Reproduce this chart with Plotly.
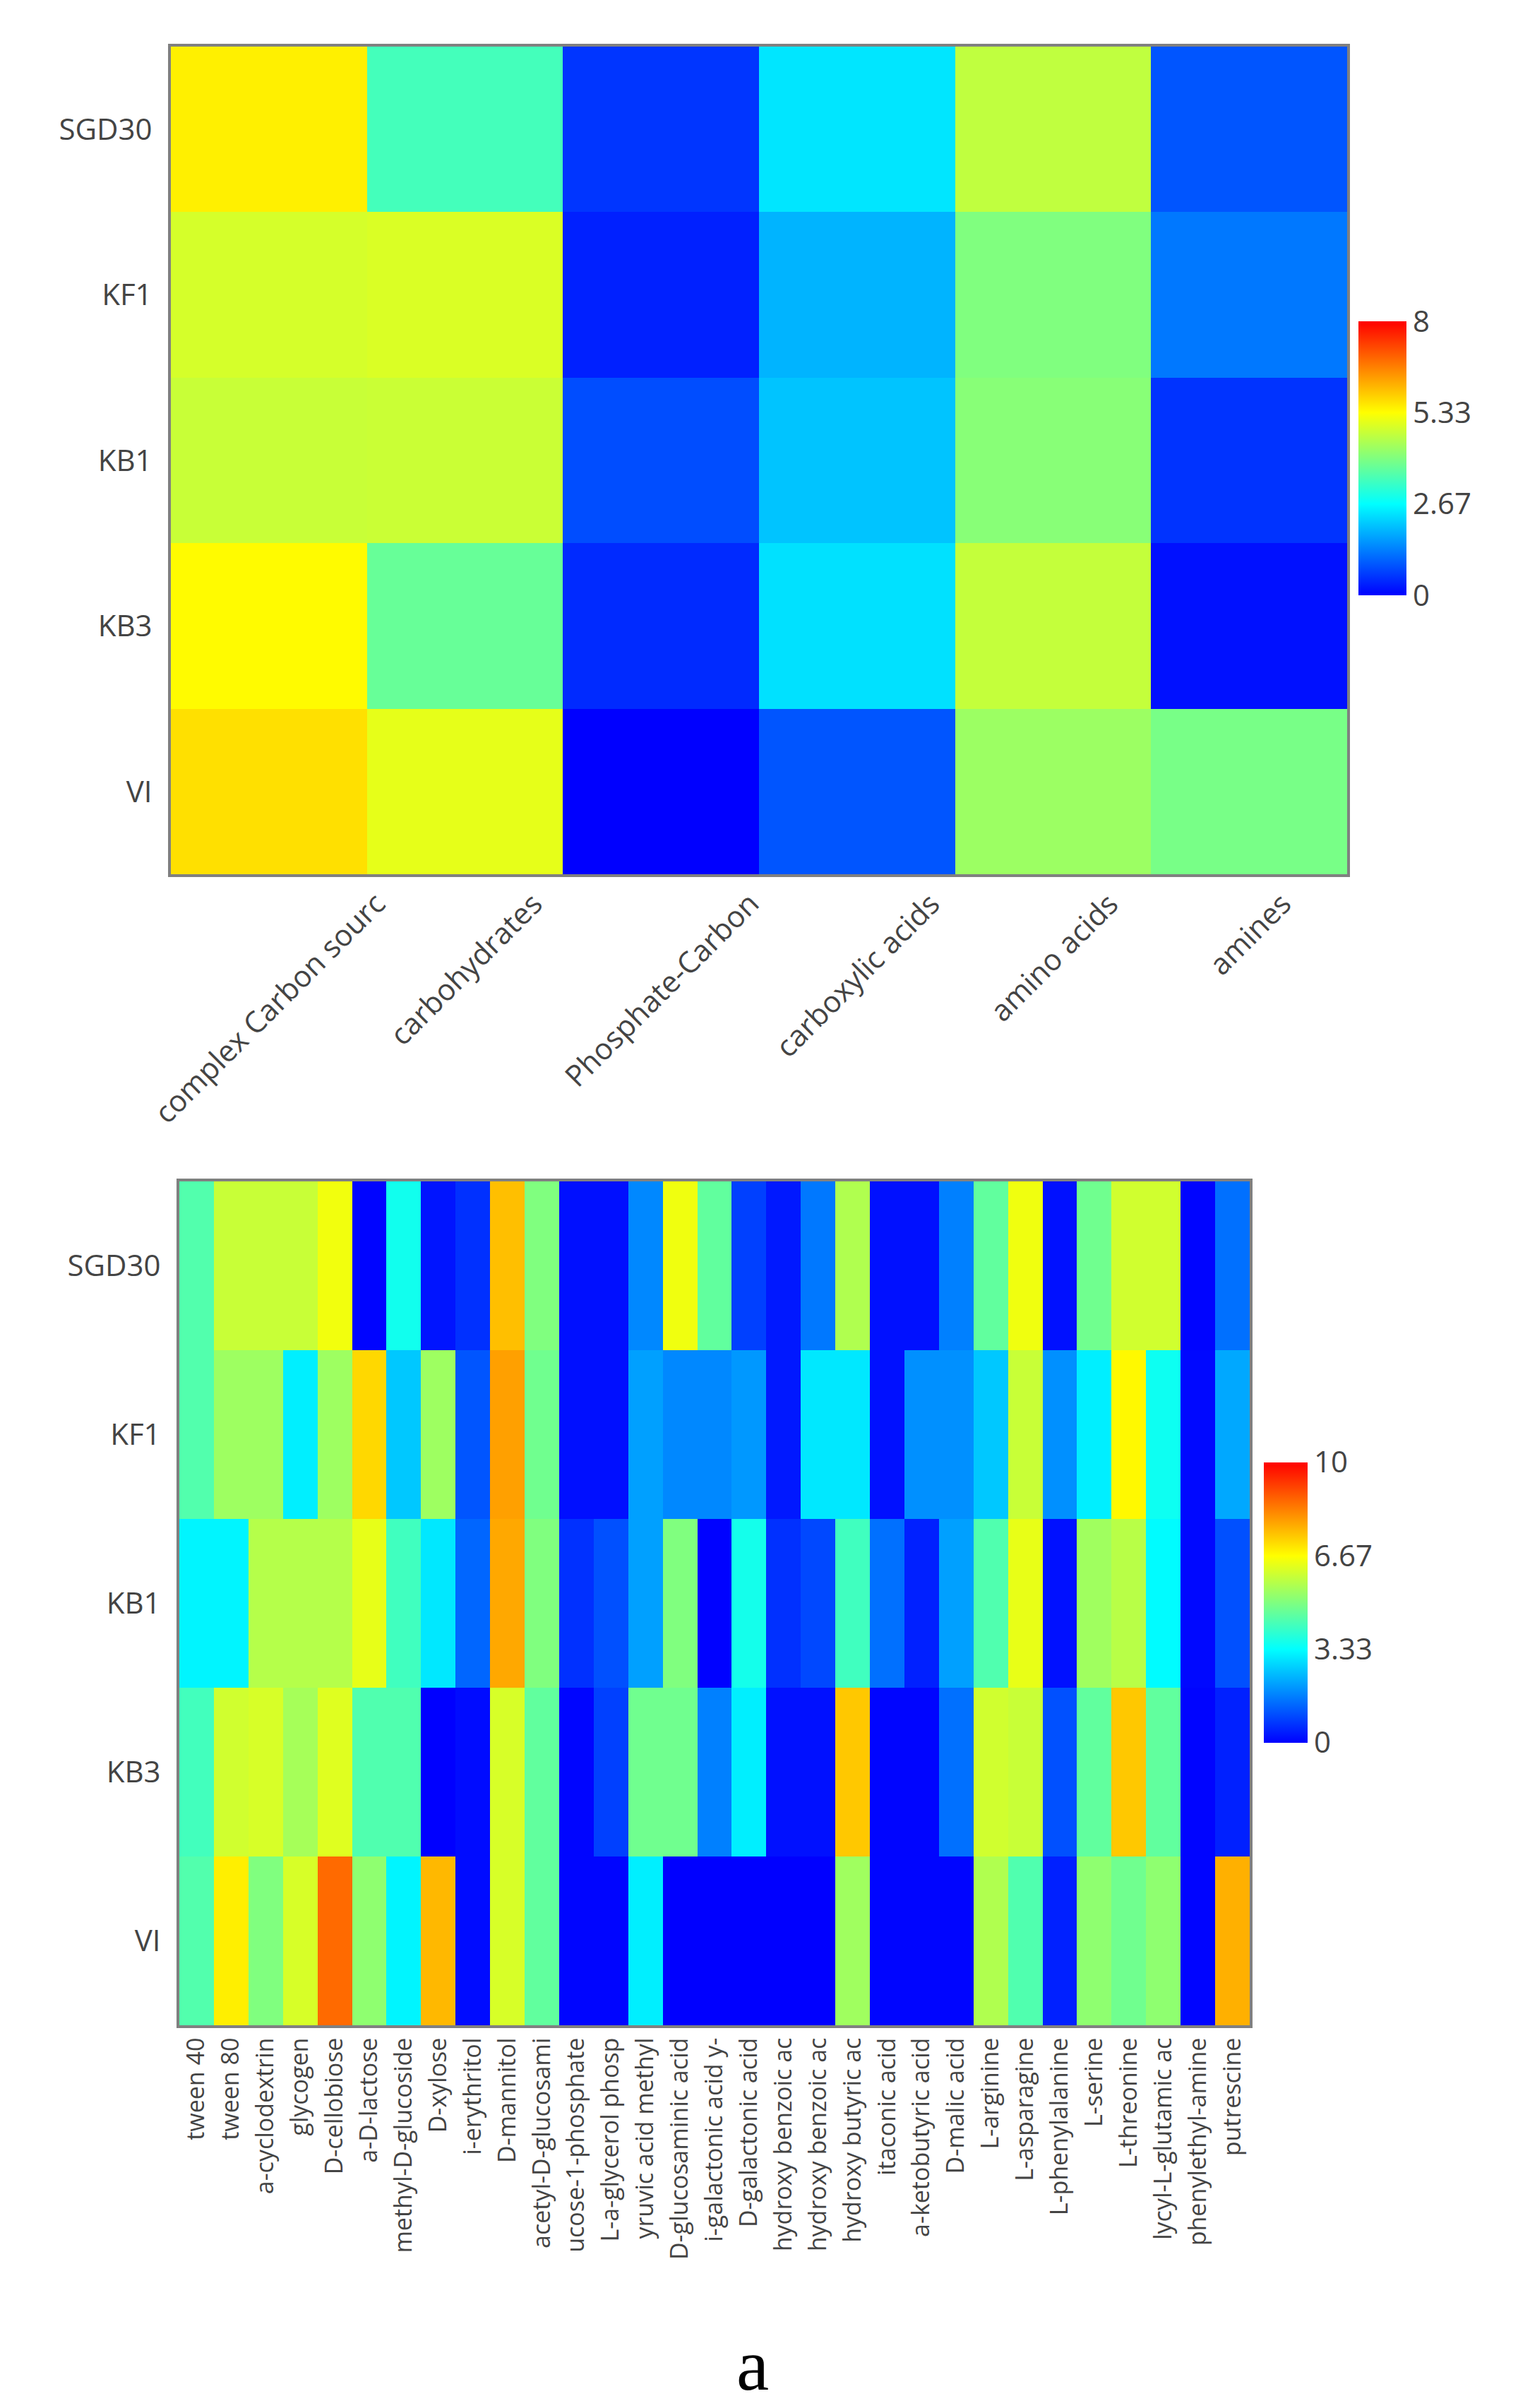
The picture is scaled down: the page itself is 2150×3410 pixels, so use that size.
import plotly.graph_objects as go

# ---- dados ----
amostras = ["SGD30", "KF1", "KB1", "KB3", "VI"]

grupos = ["complex Carbon sourc", "carbohydrates", "Phosphate-Carbon",
          "carboxylic acids", "amino acids", "amines"]

z_grupos = [
    [5.49, 3.38, 0.55, 2.40, 4.67, 0.89],   # SGD30
    [4.89, 4.95, 0.33, 1.88, 4.00, 1.25],   # KF1
    [4.76, 4.78, 0.80, 2.05, 4.09, 0.53],   # KB1
    [5.38, 3.74, 0.44, 2.35, 4.72, 0.17],   # KB3
    [5.66, 5.07, 0.00, 0.89, 4.30, 3.92],   # VI
]

substratos = ["tween 40", "tween 80", "a-cyclodextrin", "glycogen", "D-cellobiose",
              "a-D-lactose", "methyl-D-glucoside", "D-xylose", "i-erythritol", "D-mannitol",
              "acetyl-D-glucosami", "ucose-1-phosphate", "L-a-glycerol phosp",
              "yruvic acid methyl", "D-glucosaminic acid", "i-galactonic acid y-",
              "D-galactonic acid", "hydroxy benzoic ac", "hydroxy benzoic ac",
              "hydroxy butyric ac", "itaconic acid", "a-ketobutyric acid", "D-malic acid",
              "L-arginine", "L-asparagine", "L-phenylalanine", "L-serine", "L-threonine",
              "lycyl-L-glutamic ac", "phenylethyl-amine", "putrescine"]

z_sgd30 = [4.4, 5.95, 5.95, 5.95, 6.5, 0.05, 3.55, 0.26, 0.63, 7.5, 5.0, 0.2, 0.2, 1.78, 6.47,
           4.6, 0.84, 0.31, 1.57, 5.63, 0.21, 0.21, 1.67, 4.6, 6.47, 0.21, 4.8, 6.05, 6.05, 0.05, 1.46]
z_kf1 = [4.4, 5.4, 5.4, 3.13, 5.4, 7.18, 2.61, 5.4, 1.11, 7.91, 4.8, 0.2, 0.2, 2.09, 1.78,
         1.78, 1.99, 0.31, 3.03, 3.03, 0.21, 1.88, 1.88, 2.61, 5.95, 1.88, 3.13, 6.75, 3.5, 0.1, 2.2]
z_kb1 = [3.2, 3.2, 5.7, 5.7, 5.7, 6.35, 4.17, 3.03, 1.33, 7.8, 5.0, 0.63, 1.04, 2.09, 5.0,
         0.03, 3.6, 0.63, 0.94, 4.17, 1.46, 0.42, 2.09, 4.38, 6.36, 0.21, 5.42, 5.74, 3.3, 0.1, 1.04]
z_kb3 = [4.2, 6.05, 6.15, 5.5, 6.25, 4.38, 4.38, 0.0, 0.15, 6.15, 4.6, 0.07, 0.84, 4.8, 4.8,
         1.67, 3.13, 0.21, 0.21, 7.39, 0.07, 0.07, 1.46, 6.05, 5.95, 1.04, 4.6, 7.39, 4.6, 0.05, 0.42]
z_vi = [4.4, 6.87, 5.0, 6.15, 8.62, 5.2, 3.2, 7.6, 0.15, 6.15, 4.6, 0.07, 0.07, 3.13, 0.0,
        0.0, 0.0, 0.0, 0.0, 5.42, 0.07, 0.07, 0.07, 5.63, 4.38, 0.42, 5.2, 4.8, 5.2, 0.05, 7.7]

ticks_top = [0, 8 / 3, 16 / 3, 8]
ticks_top_txt = ["0", "2.67", "5.33", "8"]
ticks_bot = [0, 10 / 3, 20 / 3, 10]
ticks_bot_txt = ["0", "3.33", "6.67", "10"]

# ---- estilo ----
escala = [[0, "rgb(0,0,255)"], [1 / 3, "rgb(0,255,255)"],
          [2 / 3, "rgb(255,255,0)"], [1, "rgb(255,0,0)"]]
fonte = dict(family="Open Sans", size=42, color="#444")
W, H = 2150, 3410

fig = go.Figure()

fig.add_trace(go.Heatmap(
    z=z_grupos, x=grupos, y=amostras,
    colorscale=escala, zmin=0, zmax=8,
    xaxis="x", yaxis="y",
    colorbar=dict(x=1916 / W, xanchor="left", xpad=0, ypad=0,
                  y=1 - 641 / H, yanchor="middle",
                  lenmode="pixels", len=388, thickness=68,
                  outlinewidth=0, tickvals=ticks_top, ticktext=ticks_top_txt,
                  ticks="", tickfont=dict(family="Open Sans", size=42, color="#444")),
))

idx = list(range(len(substratos)))
fig.add_trace(go.Heatmap(
    z=[z_sgd30, z_kf1, z_kb1, z_kb3, z_vi], x=idx, y=amostras,
    colorscale=escala, zmin=0, zmax=10,
    xaxis="x2", yaxis="y2",
    colorbar=dict(x=1782 / W, xanchor="left", xpad=0, ypad=0,
                  y=1 - 2261 / H, yanchor="middle",
                  lenmode="pixels", len=397, thickness=62,
                  outlinewidth=0, tickvals=ticks_bot, ticktext=ticks_bot_txt,
                  ticks="", tickfont=dict(family="Open Sans", size=42, color="#444")),
))

eixo = dict(showgrid=False, zeroline=False, ticks="", showline=True, mirror=True,
            linecolor="#808080", linewidth=4, tickfont=fonte, automargin=False)

# rótulos inclinados do gráfico de cima: centrados na coluna, como no original
rotulos = [dict(text=g, x=g, xref="x", y=1 - 1240 / H, yref="paper",
                xanchor="center", yanchor="top", textangle=-45, showarrow=False,
                font=fonte) for g in grupos]

legenda = dict(text="a", x=1058 / W, y=1 - 3340 / H, xref="paper", yref="paper",
               xanchor="center", yanchor="middle", showarrow=False,
               font=dict(family="Liberation Serif", size=104, color="black"))

fig.update_layout(
    width=W, height=H,
    margin=dict(l=0, r=0, t=0, b=0),
    paper_bgcolor="white", plot_bgcolor="white",
    font=fonte,
    xaxis=dict(eixo, domain=[234 / W, 1900 / W], anchor="y", showticklabels=False,
               range=[-0.5, len(grupos) - 0.5]),
    yaxis=dict(eixo, domain=[1 - 1230 / H, 1 - 58 / H], anchor="x",
               autorange="reversed", ticklabelstandoff=14),
    xaxis2=dict(eixo, domain=[246 / W, 1762 / W], anchor="y2", tickangle=-90,
                tickvals=idx, ticktext=substratos, range=[-0.5, len(idx) - 0.5],
                tickfont=dict(family="Open Sans", size=34, color="#444")),
    yaxis2=dict(eixo, domain=[1 - 2860 / H, 1 - 1665 / H], anchor="x2",
                autorange="reversed", ticklabelstandoff=14),
    annotations=rotulos + [legenda],
)

fig.write_html("out.html")
